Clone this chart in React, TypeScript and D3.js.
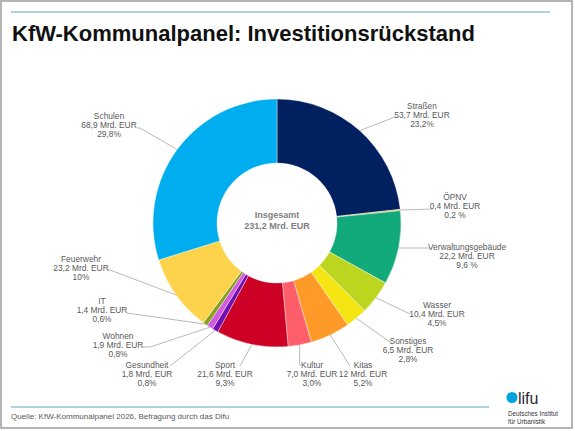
import React from "react";
import * as d3 from "d3";

const categories = [
  "Straßen", "ÖPNV", "Verwaltungsgebäude", "Wasser", "Sonstiges", "Kitas", "Kultur",
  "Sport", "Gesundheit", "Wohnen", "IT", "Feuerwehr", "Schulen",
];
const values = [53.7, 0.4, 22.2, 10.4, 6.5, 12, 7.0, 21.6, 1.8, 1.9, 1.4, 23.2, 68.9];
const valueLabels = [
  "53,7 Mrd. EUR", "0,4 Mrd. EUR", "22,2 Mrd. EUR", "10,4 Mrd. EUR", "6,5 Mrd. EUR",
  "12 Mrd. EUR", "7,0 Mrd. EUR", "21,6 Mrd. EUR", "1,8 Mrd. EUR", "1,9 Mrd. EUR",
  "1,4 Mrd. EUR", "23,2 Mrd. EUR", "68,9 Mrd. EUR",
];
const shareLabels = [
  "23,2%", "0,2 %", "9,6 %", "4,5%", "2,8%", "5,2%", "3,0%", "9,3%", "0,8%", "0,8%",
  "0,6%", "10%", "29,8%",
];
const colors = [
  "#012060", "#c5b53a", "#12a97b", "#bcd51e", "#f5e613", "#fd9a28", "#fc5f6a",
  "#cc0125", "#7010b0", "#d45ae0", "#86a01c", "#fed34c", "#00aeef",
];
const totalLabel = ["Insgesamt", "231,2 Mrd. EUR"];
const title = "KfW-Kommunalpanel: Investitionsrückstand";
const source = "Quelle: KfW-Kommunalpanel 2026, Befragung durch das Difu";

// label layout: text center x, first baseline y, leader end point, optional bends
const labelLayout: Record<string, { x: number; y: number; end: [number, number][] }> = {
  "Straßen": { x: 422, y: 109, end: [[395, 117]] },
  "ÖPNV": { x: 455, y: 200, end: [[433, 209]] },
  "Verwaltungsgebäude": { x: 467, y: 250, end: [[430, 248]] },
  "Wasser": { x: 437, y: 308, end: [[410, 314]] },
  "Sonstiges": { x: 408, y: 344, end: [[390, 342]] },
  "Kitas": { x: 363, y: 368, end: [[350, 366]] },
  "Kultur": { x: 312, y: 368, end: [[299.5, 364], [301, 366]] },
  "Sport": { x: 225, y: 368, end: [[240, 366]] },
  "Gesundheit": { x: 147, y: 368, end: [[170, 366]] },
  "Wohnen": { x: 118, y: 339, end: [[150, 347], [143, 347]] },
  "IT": { x: 102, y: 304, end: [[127, 313]] },
  "Feuerwehr": { x: 81, y: 262, end: [[110, 270], [108, 270]] },
  "Schulen": { x: 109, y: 119, end: [[140, 128], [137, 128]] },
};

const W = 575;
const H = 431;
const cx = 277;
const cy = 223;
const outerR = 124;
const innerR = 60;
const FONT = "'Liberation Sans', Arial, Helvetica, sans-serif";

export default function App() {
  const data = categories.map((c, i) => ({
    cat: c, value: values[i], vl: valueLabels[i], sl: shareLabels[i], color: colors[i],
  }));
  const pie = d3.pie<any>().value((d) => d.value).sort(null).startAngle(0).endAngle(2 * Math.PI);
  const arcs = pie(data);
  const arc = d3.arc<any>().innerRadius(innerR).outerRadius(outerR);
  const edge = d3.arc<any>().innerRadius(outerR).outerRadius(outerR);
  const line = d3.line();

  return (
    <div style={{ position: "fixed", left: 0, top: 0, width: W, height: H, background: "#fff" }}>
      <svg width={W} height={H} style={{ display: "block" }} fontFamily={FONT}>
        <rect x={0} y={0} width={W} height={H} fill="#fff" />
        <rect x={1} y={1} width={571} height={427} fill="none" stroke="#b4b4b4" strokeWidth={2} />
        <line x1={11} x2={550} y1={12} y2={12} stroke="#5aa9b8" strokeWidth={1} />
        <text x={12} y={41} fontSize={22} fontWeight="bold" fill="#111">{title}</text>

        <g transform={`translate(${cx},${cy})`}>
          {arcs.map((a, i) => (
            <path key={i} d={arc(a) as string} fill={a.data.color} stroke="#fff" strokeWidth={0.4} />
          ))}
        </g>

        {arcs.map((a, i) => {
          const lay = labelLayout[a.data.cat];
          const [sx, sy] = edge.centroid(a);
          const pts: [number, number][] = [[sx + cx, sy + cy], ...lay.end];
          return (
            <g key={"l" + i}>
              <path d={line(pts) as string} fill="none" stroke="#a6a6a6" strokeWidth={0.8} />
              <text x={lay.x} y={lay.y} fontSize={8.4} fill="#595959" textAnchor="middle">
                <tspan x={lay.x} dy={0}>{a.data.cat}</tspan>
                <tspan x={lay.x} dy={9}>{a.data.vl}</tspan>
                <tspan x={lay.x} dy={9}>{a.data.sl}</tspan>
              </text>
            </g>
          );
        })}

        <text x={cx} y={218} fontSize={9} fontWeight="bold" fill="#7f7f7f" textAnchor="middle">
          <tspan x={cx} dy={0}>{totalLabel[0]}</tspan>
          <tspan x={cx} dy={11}>{totalLabel[1]}</tspan>
        </text>

        <line x1={11} x2={489} y1={407} y2={407} stroke="#5aa9b8" strokeWidth={1} />
        <text x={11} y={419} fontSize={8} fill="#595959">{source}</text>

        <circle cx={512} cy={397.5} r={5.5} fill="#00a3e0" />
        <text x={518} y={404} fontSize={16} fill="#2a2a2a">lifu</text>
        <text x={508} y={416} fontSize={6.3} fill="#333">Deutsches Institut</text>
        <text x={508} y={423.5} fontSize={6.3} fill="#333">für Urbanistik</text>
      </svg>
    </div>
  );
}
